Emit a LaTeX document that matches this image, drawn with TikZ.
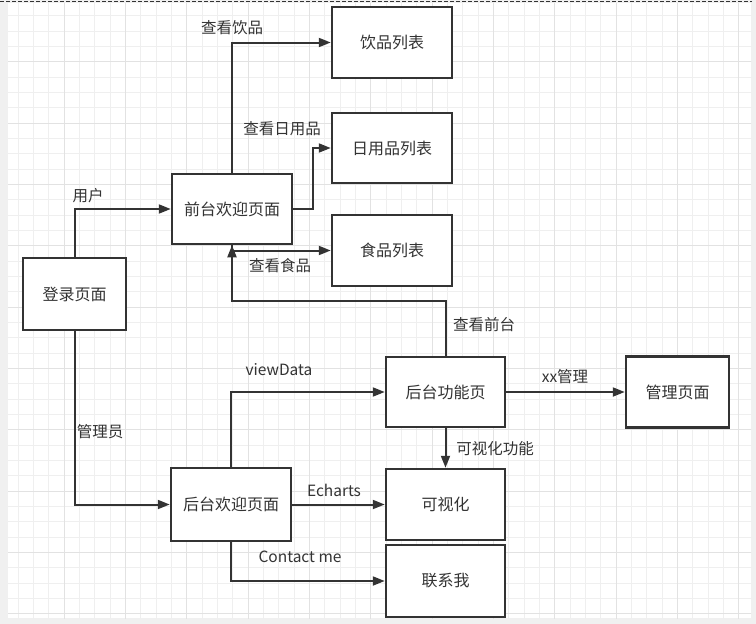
\documentclass[tikz,border=0pt]{standalone}
\usepackage{fontspec}
\setmainfont{Noto Sans CJK SC}
\usetikzlibrary{arrows.meta}
\definecolor{ink}{HTML}{333333}
\definecolor{frame}{HTML}{F0F0F0}
\definecolor{gridminor}{HTML}{EFEFEF}
\definecolor{gridmajor}{HTML}{E2E2E2}
\begin{document}
\begin{tikzpicture}[x=1pt,y=-1pt,
  box/.style={draw=ink, line width=2.5pt, fill=white, text=ink, inner sep=0pt,
              font=\fontsize{16}{19}\selectfont},
  conn/.style={draw=ink, line width=2pt, -{Triangle[length=12pt,width=9pt]}},
  lbl/.style={text=ink, inner sep=0pt, font=\fontsize{15.5}{18}\selectfont},
  minorline/.style={draw=gridminor, line width=1pt},
  majorline/.style={draw=gridmajor, line width=1pt}]
\useasboundingbox (0,0) rectangle (756,624);
% canvas frame and grid (lines snapped to whole units)
\fill[frame] (0,0) rectangle (756,624);
\fill[white] (8,3) rectangle (751,618);
\begin{scope}
  \clip (8,3) rectangle (751,618);
  \foreach \i in {0,...,49} {
    \pgfmathsetmacro{\gx}{round(2.5+15.33*\i)+0.5}
    \draw[minorline] (\gx,0) -- ++(0,624); }
  \foreach \i in {0,...,41} {
    \pgfmathsetmacro{\gy}{round(15.33*\i)+0.5}
    \draw[minorline] (0,\gy) -- ++(756,0); }
  \foreach \i in {0,...,12} {
    \pgfmathsetmacro{\gx}{round(2.5+61.33*\i)+0.5}
    \draw[majorline] (\gx,0) -- ++(0,624); }
  \foreach \i in {0,...,10} {
    \pgfmathsetmacro{\gy}{round(61.33*\i)+0.5}
    \draw[majorline] (0,\gy) -- ++(756,0); }
\end{scope}
\draw[ink, line width=1.5pt, dash pattern=on 4pt off 2pt] (0,1.5) -- (752,1.5);

% pages
\node[box, minimum width=103pt, minimum height=72pt] (login)  at (74.5,294) {登录页面};
\node[box, minimum width=120pt, minimum height=70pt] (front)  at (232,209) {前台欢迎页面};
\node[box, minimum width=120pt, minimum height=71pt] (drink)  at (392,42.5) {饮品列表};
\node[box, minimum width=120pt, minimum height=70pt] (daily)  at (392,148) {日用品列表};
\node[box, minimum width=120pt, minimum height=71pt] (food)   at (392,250.5) {食品列表};
\node[box, minimum width=119pt, minimum height=70pt] (bfunc)  at (445.5,392) {后台功能页};
\node[box, minimum width=103pt, minimum height=71pt] (manage) at (677.5,392) {管理页面};
\node[box, minimum width=119pt, minimum height=71pt] (vis)    at (445.5,504.5) {可视化};
\node[box, minimum width=119pt, minimum height=72pt] (contact) at (445.5,581) {联系我};
\node[box, minimum width=120pt, minimum height=73pt] (bwel)   at (231,504.5) {后台欢迎页面};

% connectors
\draw[conn] (login.north) |- (front.west);
\draw[conn] (login.south) |- (bwel.west);
\draw[conn] (front.north) |- (drink.west);
\draw[conn] (front.east) -- ++(20,0) |- (daily.west);
\draw[conn] (front.south) |- (food.west);
\draw[conn] (bfunc.north) -- ++(0,-55) -| (front.south);
\draw[conn] (bfunc.east) -- (manage.west);
\draw[conn] (bfunc.south) -- (vis.north);
\draw[conn] (bwel.north) |- (bfunc.west);
\draw[conn] (bwel.east) -- (vis.west);
\draw[conn] (bwel.south) |- (contact.west);

% connector labels
\node[lbl] (l1)  at (88,196) {用户};
\node[lbl] (l2)  at (100,432) {管理员};
\node[lbl] (l3)  at (232,28) {查看饮品};
\node[lbl] (l4)  at (282,129) {查看日用品};
\node[lbl] (l5)  at (280,266) {查看食品};
\node[lbl] (l6)  at (484,325) {查看前台};
\node[lbl] (l7)  at (565,377) {xx管理};
\node[lbl] (l8)  at (495,449) {可视化功能};
\node[lbl] (l9)  at (279,370) {viewData};
\node[lbl] (l10) at (334,490) {Echarts};
\node[lbl] (l11) at (300,557) {Contact me};
\end{tikzpicture}
\end{document}
